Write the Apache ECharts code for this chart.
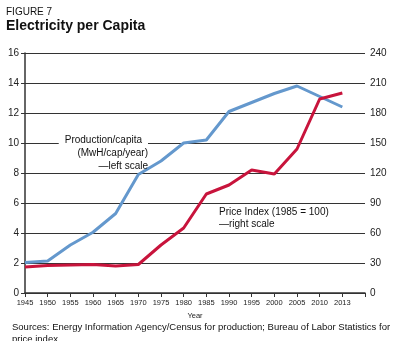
<!DOCTYPE html>
<html>
<head>
<meta charset="utf-8">
<script src="https://cdn.jsdelivr.net/npm/echarts@6/dist/echarts.min.js"></script>
<style>
html,body{margin:0;padding:0;background:#fff;}
#chart{width:395px;height:355px;}
</style>
</head>
<body>
<div id="chart"></div>
<script>
var years = ['1945','1950','1955','1960','1965','1970','1975','1980','1985','1990','1995','2000','2005','2010','2013',''];
var production = [2.04, 2.13, 3.2, 4.05, 5.3, 7.9, 8.8, 10.0, 10.2, 12.1, 12.7, 13.3, 13.8, 13.1, 12.4];
var priceIndex = [26, 27.5, 28, 28.5, 27, 28.5, 48, 65, 99, 108, 123, 119, 144, 194, 200];
var leftScale = {min: 0, max: 16, interval: 2};
var rightScale = {min: 0, max: 240, interval: 30};

var FONT = '"Liberation Sans", Arial, sans-serif';
var chart = echarts.init(document.getElementById('chart'), null, {renderer: 'canvas'});
chart.setOption({
  animation: false,
  backgroundColor: '#fff',
  grid: {left: 25, right: 30, top: 53, bottom: 62, containLabel: false},
  xAxis: {
    type: 'category',
    data: years,
    boundaryGap: false,
    name: 'Year',
    nameLocation: 'middle',
    nameGap: 16,
    nameTextStyle: {fontFamily: FONT, fontSize: 7.5, color: '#222'},
    axisLine: {show: true, lineStyle: {color: '#333', width: 1.5}},
    axisTick: {show: true, length: 4, inside: false, lineStyle: {color: '#333', width: 1}},
    axisLabel: {fontFamily: FONT, fontSize: 7.5, color: '#222', margin: 6, interval: 0},
    splitLine: {show: false}
  },
  yAxis: [
    {
      type: 'value',
      position: 'left',
      min: leftScale.min, max: leftScale.max, interval: leftScale.interval,
      axisLine: {show: true, lineStyle: {color: '#333', width: 1.5}},
      axisTick: {show: true, length: 4, lineStyle: {color: '#333'}},
      axisLabel: {fontFamily: FONT, fontSize: 10, color: '#222', margin: 6},
      splitLine: {show: true, lineStyle: {color: '#333', width: 1}}
    },
    {
      type: 'value',
      position: 'right',
      min: rightScale.min, max: rightScale.max, interval: rightScale.interval,
      axisLine: {show: false},
      axisTick: {show: false},
      axisLabel: {fontFamily: FONT, fontSize: 10, color: '#222', margin: 5},
      splitLine: {show: false}
    }
  ],
  series: [
    {
      name: 'Production/capita',
      type: 'line',
      yAxisIndex: 0,
      data: production,
      symbol: 'none',
      lineStyle: {color: '#6498cd', width: 3},
      z: 3
    },
    {
      name: 'Price Index',
      type: 'line',
      yAxisIndex: 1,
      data: priceIndex,
      symbol: 'none',
      lineStyle: {color: '#c8143c', width: 3},
      z: 4
    }
  ],
  graphic: [
    {type: 'text', left: 6, top: 7, style: {text: 'FIGURE 7', font: '10px ' + FONT, fill: '#111'}},
    {type: 'text', left: 6, top: 19, style: {text: 'Electricity per Capita', font: 'bold 14px ' + FONT, fill: '#111'}},
    {type: 'text', left: 12, top: 321, style: {text: 'Sources: Energy Information Agency/Census for production; Bureau of Labor Statistics for\nprice index', font: '9.5px ' + FONT, fill: '#111', lineHeight: 12.5}},
    {type: 'rect', left: 0, top: 341, shape: {width: 395, height: 14}, style: {fill: '#fff'}, z: 100},
    {type: 'text', z: 50, x: 148, y: 140, style: {text: 'Production/capita', font: '10px ' + FONT, fill: '#111', align: 'right', verticalAlign: 'middle', backgroundColor: '#fff', padding: [0, 6, 0, 6]}},
    {type: 'text', z: 50, x: 148, y: 153, style: {text: '(MwH/cap/year)', font: '10px ' + FONT, fill: '#111', align: 'right', verticalAlign: 'middle'}},
    {type: 'text', z: 50, x: 148, y: 166, style: {text: '\u2014left scale', font: '10px ' + FONT, fill: '#111', align: 'right', verticalAlign: 'middle'}},
    {type: 'text', z: 50, x: 219, y: 212.5, style: {text: 'Price Index (1985 = 100)', font: '10px ' + FONT, fill: '#111', align: 'left', verticalAlign: 'middle'}},
    {type: 'text', z: 50, x: 219, y: 224.5, style: {text: '\u2014right scale', font: '10px ' + FONT, fill: '#111', align: 'left', verticalAlign: 'middle'}}
  ]
});
</script>
</body>
</html>
